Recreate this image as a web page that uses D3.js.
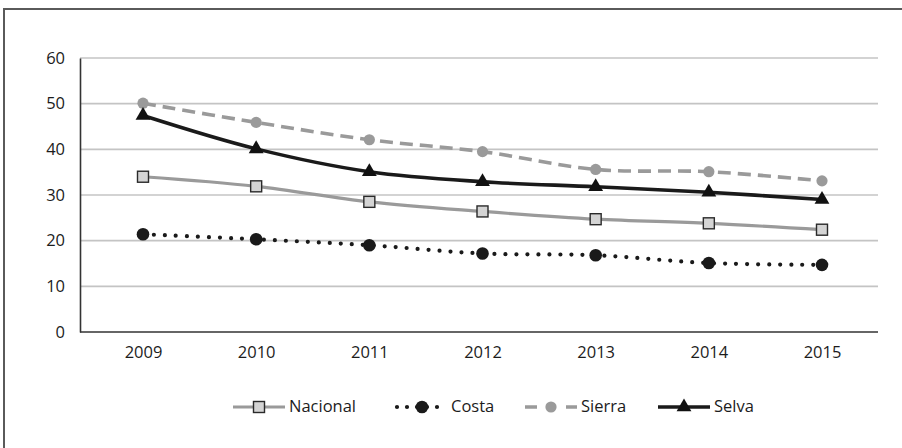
<!DOCTYPE html>
<html><head><meta charset="utf-8">
<script src="https://cdn.jsdelivr.net/npm/d3@7"></script>
<style>
html,body{margin:0;padding:0;background:#fff;}
svg{display:block;font-family:"Open Sans",sans-serif;}
</style></head>
<body><svg id="c" width="902" height="448"></svg>
<script>
const years = ["2009","2010","2011","2012","2013","2014","2015"];
const nacional = [34.0, 31.9, 28.5, 26.4, 24.7, 23.8, 22.4];
const costa    = [21.4, 20.3, 19.0, 17.2, 16.8, 15.1, 14.7];
const sierra   = [50.1, 45.9, 42.1, 39.5, 35.6, 35.1, 33.1];
const selva    = [47.4, 40.1, 35.1, 32.9, 31.8, 30.6, 29.0];
const yTicks   = [0, 10, 20, 30, 40, 50, 60];
const seriesNames = ["Nacional", "Costa", "Sierra", "Selva"];

const styles = {
  Nacional: {color:"#9a9a9a", width:3.2, dash:null, cap:"butt", marker:"square"},
  Costa:    {color:"#1a1a1a", width:4.2, dash:"0,11", cap:"round", marker:"bigcircle"},
  Sierra:   {color:"#9a9a9a", width:3.6, dash:"13,7", cap:"butt", marker:"circle"},
  Selva:    {color:"#1a1a1a", width:3.6, dash:null, cap:"butt", marker:"triangle"}
};
const legendDash = {Nacional:null, Costa:"0,10", Sierra:"12,29", Selva:null};
const seriesValues = [nacional, costa, sierra, selva];

const FS = 16.5, TXT = "#1c1c1c";
const svg = d3.select("#c");
const plotL = 80, plotR = 878, plotT = 58, plotB = 332;
const x = d3.scalePoint().domain(years).range([143, 822]);
const y = d3.scaleLinear().domain([0, 60]).range([plotB, plotT]);

// outer frame (top and left)
svg.append("path").attr("d", d3.line()([[4,448],[4,9],[902,9]]))
  .attr("fill","none").attr("stroke","#5a5a5a").attr("stroke-width",2);

// gridlines
svg.append("g").selectAll("line").data(yTicks.filter(t=>t>0)).join("line")
  .attr("x1", plotL).attr("x2", plotR)
  .attr("y1", d=>y(d)).attr("y2", d=>y(d))
  .attr("stroke","#c4c4c4").attr("stroke-width",1.6);

// y axis
const yAxis = svg.append("g").attr("transform",`translate(${plotL},0)`)
  .call(d3.axisLeft(y).tickValues(yTicks).tickSize(0).tickPadding(15));
yAxis.select(".domain").attr("stroke","#333").attr("stroke-width",1.6);
yAxis.selectAll("text").attr("font-size",FS).attr("fill",TXT)
  .attr("font-family","'Open Sans',sans-serif");

// x axis
const xAxis = svg.append("g").attr("transform",`translate(0,${plotB})`)
  .call(d3.axisBottom(x).tickSize(0).tickPadding(14));
xAxis.select(".domain").remove();
xAxis.selectAll("text").attr("font-size",FS).attr("fill",TXT)
  .attr("font-family","'Open Sans',sans-serif");
svg.append("line").attr("x1",plotL).attr("x2",plotR).attr("y1",plotB).attr("y2",plotB)
  .attr("stroke","#333").attr("stroke-width",1.6);

function drawMarker(g, type, cx, cy) {
  if (type === "square") {
    g.append("rect").attr("x",cx-5.5).attr("y",cy-5.5).attr("width",11).attr("height",11)
      .attr("fill","#d4d4d4").attr("stroke","#2a2a2a").attr("stroke-width",1.4);
  } else if (type === "bigcircle") {
    g.append("circle").attr("cx",cx).attr("cy",cy).attr("r",6.3).attr("fill","#1a1a1a");
  } else if (type === "circle") {
    g.append("circle").attr("cx",cx).attr("cy",cy).attr("r",5.6).attr("fill","#9a9a9a");
  } else if (type === "triangle") {
    g.append("path").attr("d", d3.symbol(d3.symbolTriangle, 95)())
      .attr("transform",`translate(${cx},${cy})`).attr("fill","#111");
  }
}

const line = d3.line().x((d,i)=>x(years[i])).y(d=>y(d)).curve(d3.curveCatmullRom.alpha(0.5));

seriesNames.forEach((name, k) => {
  const s = styles[name];
  const vals = seriesValues[k];
  const g = svg.append("g");
  g.append("path").attr("d", line(vals)).attr("fill","none")
    .attr("stroke", s.color).attr("stroke-width", s.width)
    .attr("stroke-dasharray", s.dash).attr("stroke-linecap", s.cap);
  vals.forEach((v,i) => drawMarker(g, s.marker, x(years[i]), y(v)));
});

// legend
const legendX = [233, 397, 525, 658];
const legendW = [52, 50, 52, 52];
const legY = 407;
seriesNames.forEach((name, k) => {
  const s = styles[name];
  const g = svg.append("g");
  const x0 = legendX[k], x1 = x0 + legendW[k];
  g.append("line").attr("x1",x0).attr("x2",x1).attr("y1",legY).attr("y2",legY)
    .attr("stroke", s.color).attr("stroke-width", s.width)
    .attr("stroke-dasharray", legendDash[name]).attr("stroke-linecap", s.cap);
  drawMarker(g, s.marker, (x0+x1)/2, legY);
  g.append("text").attr("x", x1 + 4).attr("y", legY).attr("dy","0.33em")
    .attr("font-size",FS).attr("fill",TXT).text(name);
});
</script></body></html>
